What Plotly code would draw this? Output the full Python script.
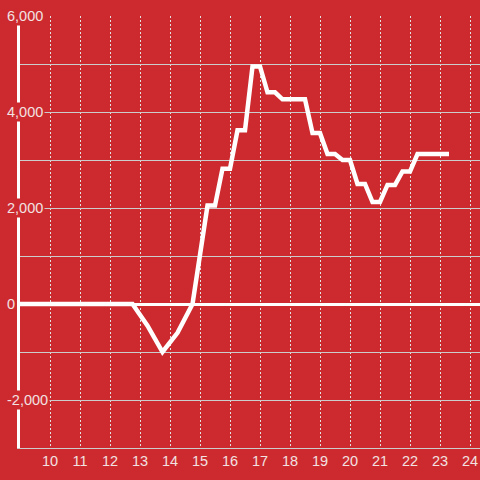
import plotly.graph_objects as go

# Data
hours = [9.0, 12.75, 13.25, 13.75, 14.25, 14.75, 15.25, 15.5, 15.75, 16.0, 16.25, 16.5,
         16.75, 17.0, 17.25, 17.5, 17.75, 18.5, 18.75, 19.0, 19.25, 19.5, 19.75, 20.0,
         20.25, 20.5, 20.75, 21.0, 21.25, 21.5, 21.75, 22.0, 22.25, 23.3]
values = [0, 0, -450, -1000, -600, 0, 2050, 2050, 2820, 2820, 3620, 3620,
          4950, 4950, 4410, 4410, 4265, 4265, 3560, 3560, 3125, 3125, 3000, 3000,
          2500, 2500, 2125, 2125, 2480, 2480, 2760, 2760, 3125, 3125]

x_ticks = list(range(10, 25))
y_label_vals = [-2000, 0, 2000, 4000, 6000]

BG = "#cc2a2f"
TXT = "#f2e2e2"
FONT = "Liberation Sans, Arial, sans-serif"

fig = go.Figure()
fig.add_trace(go.Scatter(
    x=hours, y=values, mode="lines",
    line=dict(color="white", width=4.5),
    hoverinfo="skip", showlegend=False,
))

fig.update_layout(
    width=480, height=480,
    margin=dict(l=20, r=0, t=16, b=32),
    paper_bgcolor=BG, plot_bgcolor=BG,
    font=dict(family=FONT, size=14.5, color=TXT),
    showlegend=False,
)

fig.update_xaxes(
    range=[9, 24 + 1 / 3],
    tickvals=x_ticks, ticktext=[str(t) for t in x_ticks],
    showgrid=True, gridcolor="#e2e2e2", gridwidth=1, griddash="2px,2px",
    showline=True, linecolor="#cccccc", linewidth=1,
    zeroline=False, ticks="",
    tickfont=dict(family=FONT, size=14.5, color=TXT),
)

fig.update_yaxes(
    range=[-3000, 6000], dtick=1000, tick0=0,
    showgrid=True, gridcolor="#cccccc", gridwidth=1,
    showline=True, linecolor="white", linewidth=3,
    zeroline=True, zerolinecolor="white", zerolinewidth=3,
    showticklabels=False, ticks="",
)

plot_w = 480 - 20
for v in y_label_vals:
    fig.add_annotation(
        x=(5 - 20) / plot_w, xref="paper", xanchor="left",
        y=v, yref="y", yanchor="middle",
        text=f"{v:,}", showarrow=False,
        font=dict(family=FONT, size=14.5, color=TXT),
        bgcolor=BG, borderpad=1,
    )

fig.write_html(
    "out.html",
    config={"displayModeBar": False, "staticPlot": True},
    post_script="document.body.style.margin='0';document.body.style.padding='0';"
                "document.body.style.overflow='hidden';",
)
